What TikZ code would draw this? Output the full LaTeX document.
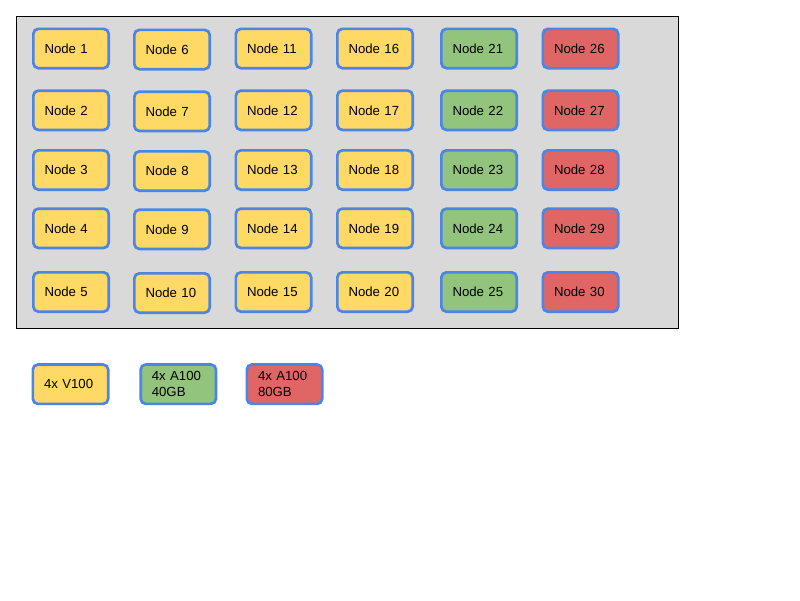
\documentclass[tikz,border=0pt]{standalone}
\usepackage{fontspec}
\setmainfont{Liberation Sans}
\definecolor{nyellow}{HTML}{FFD966}
\definecolor{ngreen}{HTML}{93C47D}
\definecolor{nred}{HTML}{E06666}
\definecolor{nblue}{HTML}{4A86E8}
\definecolor{ngray}{HTML}{D9D9D9}
\tikzset{
  gpubox/.style={draw=nblue, line width=2.7pt, rounded corners=5pt,
    minimum width=75.3pt, minimum height=39.3pt, text width=53pt,
    inner xsep=11.15pt, inner ysep=2pt, align=left, outer sep=0pt,
    font=\fontsize{13.2}{16}\selectfont, text=black},
  v100/.style={gpubox, fill=nyellow},
  a40/.style={gpubox, fill=ngreen},
  a80/.style={gpubox, fill=nred},
  clusterbox/.style={draw=black, line width=1pt, fill=ngray,
    minimum width=662pt, minimum height=312pt, inner sep=0pt, outer sep=0pt}
}
\begin{document}
\begin{tikzpicture}[x=1pt, y=-1pt]
\useasboundingbox (0,0) rectangle (800,600);
\fill[white] (0,0) rectangle (800,600);
\node[clusterbox] (cluster) at (347.5,172.5) {};
% columns
\def\rowA{48.5}\def\rowB{110.3}\def\rowC{170}\def\rowD{228.3}\def\rowE{292}
\foreach \n/\y in {1/\rowA,2/\rowB,3/\rowC,4/\rowD,5/\rowE}
  \node[v100] (n\n) at (71,\y) {Node \n};
\foreach \n/\y in {6/\rowA,7/\rowB,8/\rowC,9/\rowD,10/\rowE}
  \node[v100] (n\n) at (172,\y+1) {Node \n};
\foreach \n/\y in {11/\rowA,12/\rowB,13/\rowC,14/\rowD,15/\rowE}
  \node[v100] (n\n) at (273.5,\y) {Node \n};
\foreach \n/\y in {16/\rowA,17/\rowB,18/\rowC,19/\rowD,20/\rowE}
  \node[v100] (n\n) at (375,\y) {Node \n};
\foreach \n/\y in {21/\rowA,22/\rowB,23/\rowC,24/\rowD,25/\rowE}
  \node[a40] (n\n) at (479,\y) {Node \n};
\foreach \n/\y in {26/\rowA,27/\rowB,28/\rowC,29/\rowD,30/\rowE}
  \node[a80] (n\n) at (580.5,\y) {Node \n};
% legend
\node[v100] (legV) at (70.5,384.2) {4x V100};
\node[a40] (legA40) at (178.3,384.2) {4x A100\\40GB};
\node[a80] (legA80) at (284.5,384.2) {4x A100\\80GB};
\end{tikzpicture}
\end{document}
